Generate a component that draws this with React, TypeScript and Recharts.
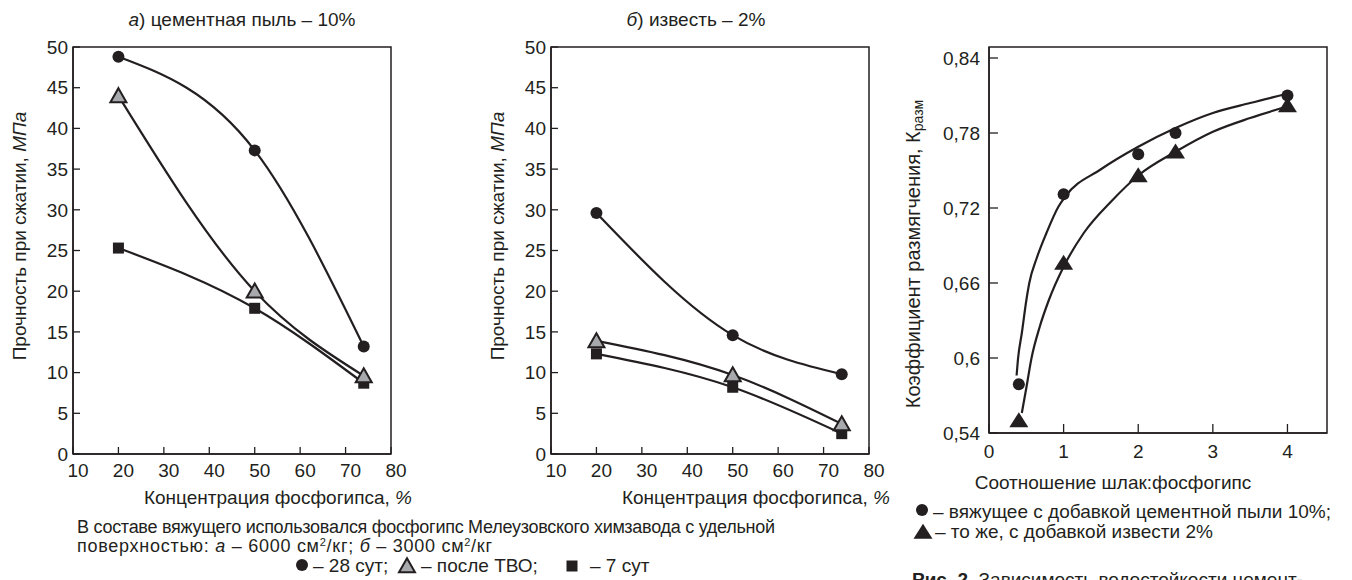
import React from 'react';
import { ComposedChart, Line, XAxis, YAxis, ReferenceArea } from 'recharts';

const INK = '#231f20';
const GREY = '#a7a9ac';
const FONT = '"Liberation Sans", Arial, Helvetica, sans-serif';
const FS = 19;

// а) cement dust 10 %: strength, MPa
const concA = [20, 50, 74];
const a28days = [48.8, 37.3, 13.2];
const aAfterTVO = [44.0, 20.0, 9.6];
const a7days = [25.3, 17.9, 8.7];

// б) lime 2 %: strength, MPa
const concB = [20, 50, 74];
const b28days = [29.6, 14.6, 9.8];
const bAfterTVO = [13.9, 9.7, 3.7];
const b7days = [12.3, 8.2, 2.5];

const strengthTicks = [0, 5, 10, 15, 20, 25, 30, 35, 40, 45, 50];
const concTicks = [10, 20, 30, 40, 50, 60, 70, 80];

// softening coefficient vs slag:phosphogypsum ratio (measured points)
const ratioDust = [0.4, 1, 2, 2.5, 4];
const kDust = [0.579, 0.731, 0.763, 0.78, 0.81];
const ratioLime = [0.4, 1, 2, 2.5, 4];
const kLime = [0.55, 0.676, 0.746, 0.765, 0.802];

// smoothed trend curves through the measured points
const fitDustX = [0.37, 0.39, 0.44, 0.5, 0.54, 0.64, 0.77, 0.93, 1.02, 1.5, 2.0, 2.5, 3.0, 3.5, 4.04];
const fitDustY = [0.586, 0.6, 0.62, 0.646, 0.66, 0.68, 0.7, 0.721, 0.729, 0.751, 0.769, 0.784, 0.796, 0.804, 0.812];
const fitLimeX = [0.44, 0.5, 0.57, 0.68, 0.8, 1.0, 1.27, 1.65, 2.0, 2.5, 3.0, 3.5, 4.04];
const fitLimeY = [0.556, 0.576, 0.6, 0.625, 0.646, 0.673, 0.7, 0.726, 0.746, 0.765, 0.781, 0.792, 0.802];

const kTicks = [0.54, 0.6, 0.66, 0.72, 0.78, 0.84];
const ratioTicks = [0, 1, 2, 3, 4];

const pts = (xs: number[], ys: number[]) => xs.map((x, i) => ({ x, y: ys[i] }));

type Kind = 'circle' | 'square' | 'triGrey' | 'triBlack';

function Marker({ kind, cx, cy }: { kind: Kind; cx: number; cy: number }) {
  if (kind === 'circle') return <circle cx={cx} cy={cy} r={6} fill={INK} />;
  if (kind === 'square') return <rect x={cx - 5.5} y={cy - 5.5} width={11} height={11} fill={INK} />;
  if (kind === 'triGrey') {
    const w = 16, h = 14;
    return (
      <path
        d={`M${cx},${cy - h * 0.55} L${cx + w / 2},${cy + h * 0.45} L${cx - w / 2},${cy + h * 0.45} Z`}
        fill={GREY}
        stroke={INK}
        strokeWidth={2}
      />
    );
  }
  const w = 19, h = 15;
  return (
    <path
      d={`M${cx},${cy - h * 0.55} L${cx + w / 2},${cy + h * 0.45} L${cx - w / 2},${cy + h * 0.45} Z`}
      fill={INK}
    />
  );
}

const dotOf = (kind: Kind) => (p: any) => (
  <Marker key={`${kind}-${p.index}`} kind={kind} cx={p.cx} cy={p.cy} />
);

const tickStyle = { fill: INK, fontSize: FS, fontFamily: FONT };

function StrengthChart({ conc, s28, sTvo, s7, left, width }: {
  conc: number[]; s28: number[]; sTvo: number[]; s7: number[]; left: number; width: number;
}) {
  return (
    <div style={{ position: 'absolute', left, top: 0 }}>
      <ComposedChart width={width} height={500} margin={{ top: 47, right: width - 73 - 318, left: 0, bottom: 16 }}>
        <XAxis
          type="number"
          dataKey="x"
          domain={[10, 80]}
          ticks={concTicks}
          interval={0}
          height={30}
          tickSize={-7}
          tickMargin={17}
          tick={{ ...tickStyle, dx: 5 }}
          axisLine={{ stroke: INK, strokeWidth: 1.5 }}
          tickLine={{ stroke: INK, strokeWidth: 1.3 }}
          allowDataOverflow
        />
        <YAxis
          type="number"
          dataKey="y"
          domain={[0, 50]}
          ticks={strengthTicks}
          interval={0}
          width={73}
          tickSize={-7}
          tickMargin={12}
          tick={tickStyle}
          axisLine={{ stroke: INK, strokeWidth: 1.5 }}
          tickLine={{ stroke: INK, strokeWidth: 1.3 }}
          allowDataOverflow
        />
        <ReferenceArea x1={10} x2={80} y1={0} y2={50} fill="none" stroke={INK} strokeWidth={1.5} />
        <Line data={pts(conc, s7)} dataKey="y" type="monotone" stroke={INK} strokeWidth={2.2}
          dot={dotOf('square')} activeDot={false} isAnimationActive={false} />
        <Line data={pts(conc, sTvo)} dataKey="y" type="monotone" stroke={INK} strokeWidth={2.2}
          dot={dotOf('triGrey')} activeDot={false} isAnimationActive={false} />
        <Line data={pts(conc, s28)} dataKey="y" type="monotone" stroke={INK} strokeWidth={2.2}
          dot={dotOf('circle')} activeDot={false} isAnimationActive={false} />
      </ComposedChart>
    </div>
  );
}

function SofteningChart() {
  return (
    <div style={{ position: 'absolute', left: 900, top: 0 }}>
      <ComposedChart width={452} height={480} margin={{ top: 47, right: 25, left: 0, bottom: 17 }}>
        <XAxis
          type="number"
          dataKey="x"
          domain={[0, 4.53]}
          ticks={ratioTicks}
          interval={0}
          height={30}
          tickSize={-9}
          tickMargin={21}
          tick={tickStyle}
          axisLine={{ stroke: INK, strokeWidth: 1.5 }}
          tickLine={{ stroke: INK, strokeWidth: 1.3 }}
          allowDataOverflow
        />
        <YAxis
          type="number"
          dataKey="y"
          domain={[0.54, 0.8488]}
          ticks={kTicks}
          interval={0}
          width={89}
          tickSize={-9}
          tickMargin={18}
          tick={tickStyle}
          tickFormatter={(v: number) => String(v).replace('.', ',')}
          axisLine={{ stroke: INK, strokeWidth: 1.5 }}
          tickLine={{ stroke: INK, strokeWidth: 1.3 }}
          allowDataOverflow
        />
        <ReferenceArea x1={0} x2={4.53} y1={0.54} y2={0.8488} fill="none" stroke={INK} strokeWidth={1.5} />
        <Line data={pts(fitDustX, fitDustY)} dataKey="y" type="monotone" stroke={INK} strokeWidth={2.2}
          dot={false} activeDot={false} isAnimationActive={false} />
        <Line data={pts(fitLimeX, fitLimeY)} dataKey="y" type="monotone" stroke={INK} strokeWidth={2.2}
          dot={false} activeDot={false} isAnimationActive={false} />
        <Line data={pts(ratioDust, kDust)} dataKey="y" stroke="none"
          dot={dotOf('circle')} activeDot={false} isAnimationActive={false} />
        <Line data={pts(ratioLime, kLime)} dataKey="y" stroke="none"
          dot={dotOf('triBlack')} activeDot={false} isAnimationActive={false} />
      </ComposedChart>
    </div>
  );
}

function Annotations() {
  const t = { fill: INK, fontFamily: FONT, fontSize: FS };
  const yLabel = (x: number, y: number) => (
    <text {...t} x={x} y={y} textAnchor="middle" dominantBaseline="central" transform={`rotate(-90 ${x} ${y})`}>
      Прочность при сжатии, <tspan fontStyle="italic">МПа</tspan>
    </text>
  );
  const xLabel = (x: number) => (
    <text {...t} x={x} y={497} textAnchor="middle" dominantBaseline="central">
      Концентрация фосфогипса, <tspan fontStyle="italic">%</tspan>
    </text>
  );
  return (
    <svg width={1352} height={580} style={{ position: 'absolute', left: 0, top: 0, pointerEvents: 'none' }}>
      <text {...t} x={242} y={19} textAnchor="middle" dominantBaseline="central">
        <tspan fontStyle="italic">а</tspan>) цементная пыль – 10%
      </text>
      <text {...t} x={696} y={19} textAnchor="middle" dominantBaseline="central">
        <tspan fontStyle="italic">б</tspan>) известь – 2%
      </text>
      {yLabel(19, 236)}
      {yLabel(497, 236)}
      {xLabel(278)}
      {xLabel(756)}

      <text {...t} fontSize={18} x={77} y={533} textLength={698}>
        В составе вяжущего использовался фосфогипс Мелеузовского химзавода с удельной
      </text>
      <text {...t} fontSize={18} x={77} y={552} textLength={415}>
        {'поверхностью: '}<tspan fontStyle="italic">а</tspan>{' – 6000 см'}
        <tspan fontSize={11} dy={-6}>2</tspan><tspan dy={6}>{'/кг; '}</tspan>
        <tspan fontStyle="italic">б</tspan>{' – 3000 см'}
        <tspan fontSize={11} dy={-6}>2</tspan><tspan dy={6}>/кг</tspan>
      </text>
      <Marker kind="circle" cx={302} cy={565} />
      <text {...t} x={313} y={565} dominantBaseline="central">– 28 сут;</text>
      <Marker kind="triGrey" cx={407} cy={566} />
      <text {...t} x={421} y={565} dominantBaseline="central">– после ТВО;</text>
      <Marker kind="square" cx={572} cy={566} />
      <text {...t} x={590} y={565} dominantBaseline="central">– 7 сут</text>

      <text {...t} x={1113} y={482} textAnchor="middle" dominantBaseline="central">
        Соотношение шлак:фосфогипс
      </text>
      <text {...t} fontSize={20} x={913} y={254} textAnchor="middle" dominantBaseline="central"
        transform="rotate(-90 913 254)">
        Коэффициент размягчения, К<tspan fontSize={14} dy={5}>разм</tspan>
      </text>
      <Marker kind="circle" cx={922} cy={510} />
      <text {...t} x={933} y={511} dominantBaseline="central">– вяжущее с добавкой цементной пыли 10%;</text>
      <Marker kind="triBlack" cx={923} cy={532} />
      <text {...t} x={935} y={531} dominantBaseline="central">– то же, с добавкой извести 2%</text>
      <text {...t} x={912} y={586}>
        <tspan fontWeight="bold">Рис. 2.</tspan> Зависимость водостойкости цемент-
      </text>
    </svg>
  );
}

export default function App() {
  return (
    <div style={{ position: 'absolute', left: 0, top: 0, width: 1352, height: 580, overflow: 'hidden', background: '#fff' }}>
      <StrengthChart conc={concA} s28={a28days} sTvo={aAfterTVO} s7={a7days} left={0} width={420} />
      <StrengthChart conc={concB} s28={b28days} sTvo={bAfterTVO} s7={b7days} left={478} width={412} />
      <SofteningChart />
      <Annotations />
    </div>
  );
}
